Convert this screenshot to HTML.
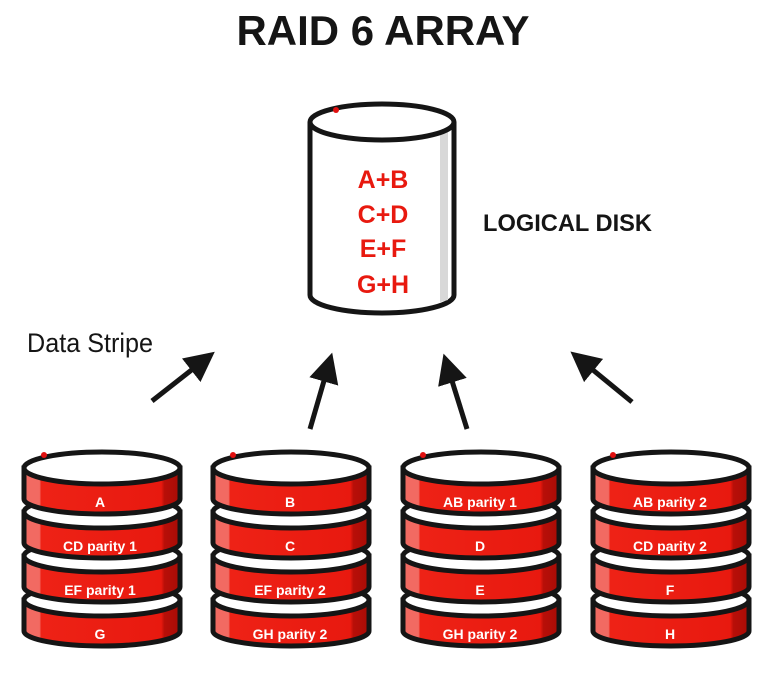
<!DOCTYPE html>
<html><head><meta charset="utf-8"><style>
html,body{margin:0;padding:0;background:#fff;}
svg{display:block;}
.t{font-family:"Liberation Sans",sans-serif;font-weight:bold;}
.b{fill:#fff;font-family:"Liberation Sans",sans-serif;font-weight:bold;font-size:14px;text-anchor:middle;}
</style></head><body>
<svg width="774" height="684" viewBox="0 0 774 684" xmlns="http://www.w3.org/2000/svg">
<defs>
<linearGradient id="rg" x1="0" x2="1" y1="0" y2="0">
<stop offset="0" stop-color="#f26a62"/><stop offset="0.1" stop-color="#f26a62"/><stop offset="0.11" stop-color="#ee2216"/><stop offset="0.88" stop-color="#e8190f"/><stop offset="0.9" stop-color="#b80f08"/><stop offset="1" stop-color="#a80c06"/>
</linearGradient>
<g id="L">
<path d="M-78,0 L-78,31 A78,15 0 0 0 78,31 L78,0 Z" fill="url(#rg)" stroke="#151515" stroke-width="5"/>
<ellipse cx="0" cy="0" rx="78" ry="16" fill="#fff" stroke="#151515" stroke-width="5"/>
</g>
<g id="D">
<use href="#L" y="132"/><use href="#L" y="88"/><use href="#L" y="44"/><use href="#L" y="0"/>
<circle cx="-58" cy="-13" r="3" fill="#e01010"/>
</g>
<marker id="ah" markerWidth="6" markerHeight="6" refX="3" refY="3" orient="auto" markerUnits="strokeWidth">
<path d="M0,0 L6,3 L0,6 Z" fill="#151515"/>
</marker>
</defs>

<text class="t" x="383" y="45" font-size="42" text-anchor="middle" textLength="293" lengthAdjust="spacingAndGlyphs" fill="#151515">RAID 6 ARRAY</text>
<text class="t" x="483" y="231" font-size="24" textLength="169" lengthAdjust="spacingAndGlyphs" fill="#151515">LOGICAL DISK</text>
<text x="27" y="352" font-family="Liberation Sans,sans-serif" font-size="27" textLength="126" lengthAdjust="spacingAndGlyphs" fill="#151515">Data Stripe</text>

<!-- logical disk -->
<path d="M310,122 L310,295 A72,18 0 0 0 454,295 L454,122" fill="#fff" stroke="#151515" stroke-width="5"/>
<path d="M440,130 L448,130 L448,300 L440,302 Z" fill="#d8d8d8"/>
<ellipse cx="382" cy="122" rx="72" ry="18" fill="#fff" stroke="#151515" stroke-width="5"/>
<circle cx="336" cy="110" r="3" fill="#e01010"/>
<g class="t" font-size="25" fill="#e8190f" text-anchor="middle">
<text x="383" y="188">A+B</text><text x="383" y="223">C+D</text><text x="383" y="257">E+F</text><text x="383" y="293">G+H</text>
</g>

<!-- arrows -->
<g stroke="#151515" stroke-width="5" marker-end="url(#ah)">
<line x1="152" y1="401" x2="203" y2="361"/>
<line x1="310" y1="429" x2="328" y2="367"/>
<line x1="467" y1="429" x2="448" y2="368"/>
<line x1="632" y1="402" x2="582" y2="361"/>
</g>

<!-- disks -->
<use href="#D" x="102" y="468"/>
<use href="#D" x="291" y="468"/>
<use href="#D" x="481" y="468"/>
<use href="#D" x="671" y="468"/>

<g class="b">
<text x="100" y="507">A</text><text x="100" y="551">CD parity 1</text><text x="100" y="595">EF parity 1</text><text x="100" y="639">G</text>
<text x="290" y="507">B</text><text x="290" y="551">C</text><text x="290" y="595">EF parity 2</text><text x="290" y="639">GH parity 2</text>
<text x="480" y="507">AB parity 1</text><text x="480" y="551">D</text><text x="480" y="595">E</text><text x="480" y="639">GH parity 2</text>
<text x="670" y="507">AB parity 2</text><text x="670" y="551">CD parity 2</text><text x="670" y="595">F</text><text x="670" y="639">H</text>
</g>
</svg>
</body></html>
